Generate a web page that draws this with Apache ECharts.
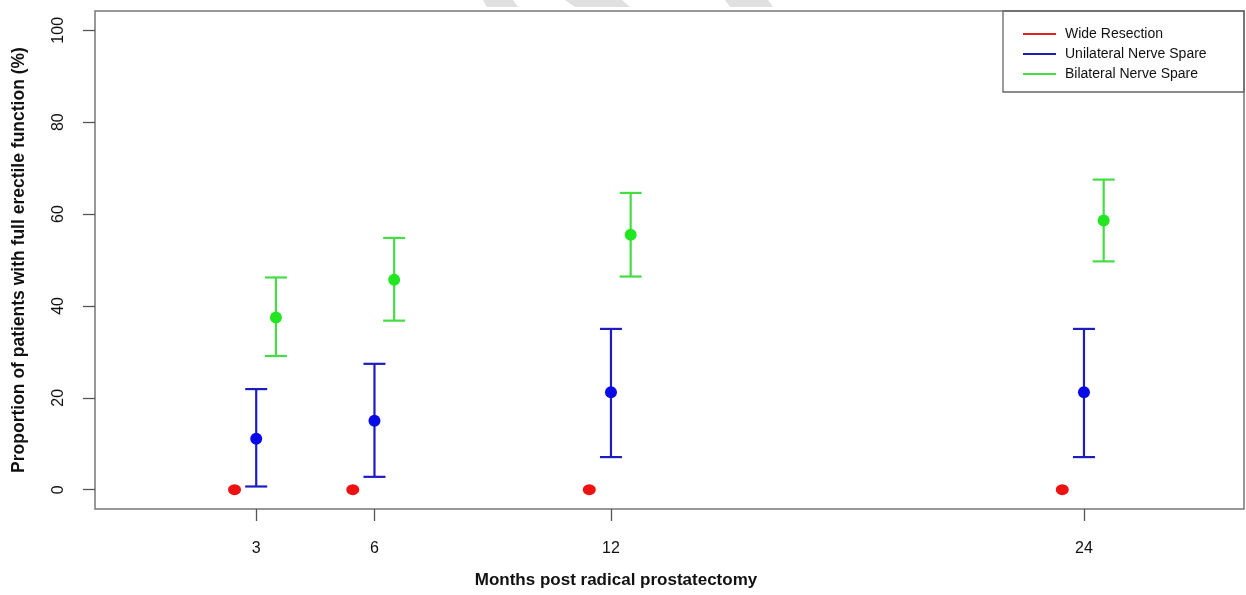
<!DOCTYPE html>
<html>
<head>
<meta charset="utf-8">
<script src="https://cdn.jsdelivr.net/npm/echarts@6/dist/echarts.min.js"></script>
<style>
html,body{margin:0;padding:0;background:#fff;}
#chart{width:1246px;height:595px;}
</style>
</head>
<body>
<div id="chart"></div>
<script>
// ---- data ----
const months = [3, 6, 12, 24];
const xTicks = [3, 6, 12, 24];
const yTicks = [0, 20, 40, 60, 80, 100];
const seriesNames = ['Wide Resection', 'Unilateral Nerve Spare', 'Bilateral Nerve Spare'];
const wideMean = [0, 0, 0, 0];
const uniMean = [11.1, 15.0, 21.2, 21.2];
const uniLow = [0.7, 2.8, 7.1, 7.1];
const uniHigh = [21.9, 27.4, 35.0, 35.0];
const biMean = [37.5, 45.7, 55.5, 58.6];
const biLow = [29.1, 36.8, 46.4, 49.7];
const biHigh = [46.2, 54.8, 64.6, 67.5];
const xTitle = 'Months post radical prostatectomy';
const yTitle = 'Proportion of patients with full erectile function (%)';

// ---- styling / layout ----
const offWide = -0.55, offUni = 0, offBi = 0.5;
const FONT = 'Liberation Sans, Arial, Helvetica, sans-serif';
const cRed = '#ee1111', cBlue = '#0a0ae6', cGreen = '#22e622';
const lBlue = '#1c1cc0', lGreen = '#44dd44';

function pts(mean, off) { return months.map((m, i) => [m + off, mean[i]]); }
function bars(low, high, off) { return months.map((m, i) => [m + off, low[i], high[i]]); }

function errRender(color) {
  return function (params, api) {
    const x = api.value(0), lo = api.value(1), hi = api.value(2);
    const pl = api.coord([x, lo]), ph = api.coord([x, hi]);
    const hw = 11;
    const st = { stroke: color, lineWidth: 2.2 };
    return {
      type: 'group',
      children: [
        { type: 'line', shape: { x1: pl[0], y1: pl[1], x2: ph[0], y2: ph[1] }, style: st },
        { type: 'line', shape: { x1: ph[0] - hw, y1: ph[1], x2: ph[0] + hw, y2: ph[1] }, style: st },
        { type: 'line', shape: { x1: pl[0] - hw, y1: pl[1], x2: pl[0] + hw, y2: pl[1] }, style: st }
      ]
    };
  };
}

const chart = echarts.init(document.getElementById('chart'), null, { renderer: 'canvas' });
chart.setOption({
  animation: false,
  backgroundColor: '#fff',
  textStyle: { fontFamily: FONT },
  title: {
    text: xTitle, left: 611, top: 567, textAlign: 'center',
    textStyle: { fontFamily: FONT, fontSize: 17, fontWeight: 'bold', color: '#111' }
  },
  grid: { left: 95, top: 11, width: 1149, height: 498, show: true, borderColor: '#777', borderWidth: 1.5, backgroundColor: 'transparent' },
  xAxis: {
    type: 'value', min: -1.09, max: 28.06,
    axisLine: { show: false, onZero: false },
    splitLine: { show: false },
    axisTick: { show: true, customValues: xTicks, length: 12, lineStyle: { color: '#555', width: 1.3 } },
    axisLabel: { customValues: xTicks, margin: 32, fontSize: 16, color: '#111', fontFamily: FONT }
  },
  yAxis: {
    type: 'value', min: -4.2, max: 104.2,
    name: yTitle, nameLocation: 'middle', nameRotate: 90, nameGap: 67,
    nameTextStyle: { fontFamily: FONT, fontSize: 17.5, fontWeight: 'bold', color: '#111' },
    axisLine: { show: false, onZero: false },
    splitLine: { show: false },
    axisTick: { show: true, customValues: yTicks, length: 12, lineStyle: { color: '#555', width: 1.3 } },
    axisLabel: { customValues: yTicks, rotate: 90, margin: 28, fontSize: 16, color: '#111', fontFamily: FONT }
  },
  legend: {
    orient: 'vertical', left: 1018, top: 19,
    icon: 'rect', itemWidth: 33, itemHeight: 2, itemGap: 0,
    textStyle: { fontFamily: FONT, fontSize: 14, color: '#111', lineHeight: 20, padding: [0, 0, 0, 4] },
    data: [
      { name: seriesNames[0], itemStyle: { color: '#dd2222' } },
      { name: seriesNames[1], itemStyle: { color: '#1c1cb0' } },
      { name: seriesNames[2], itemStyle: { color: '#44dd44' } }
    ]
  },
  graphic: [
    { type: 'rect', shape: { x: 1003, y: 11, width: 241, height: 81 }, style: { fill: 'transparent', stroke: '#666', lineWidth: 1.3 }, z: 10 },
    { type: 'polygon', shape: { points: [[483, 0], [513, 0], [518, 7], [487, 7]] }, style: { fill: '#e0e0e0' }, z: 1 },
    { type: 'polygon', shape: { points: [[565, 0], [622, 0], [630, 7], [575, 7]] }, style: { fill: '#e0e0e0' }, z: 1 },
    { type: 'polygon', shape: { points: [[725, 0], [768, 0], [773, 7], [730, 7]] }, style: { fill: '#e0e0e0' }, z: 1 }
  ],
  series: [
    { name: 'uniErr', type: 'custom', renderItem: errRender(lBlue), data: bars(uniLow, uniHigh, offUni), z: 2, silent: true },
    { name: 'biErr', type: 'custom', renderItem: errRender(lGreen), data: bars(biLow, biHigh, offBi), z: 2, silent: true },
    { name: seriesNames[0], type: 'scatter', data: pts(wideMean, offWide), symbolSize: [13, 11], itemStyle: { color: cRed, opacity: 1 }, z: 3 },
    { name: seriesNames[1], type: 'scatter', data: pts(uniMean, offUni), symbolSize: 12, itemStyle: { color: cBlue, opacity: 1 }, z: 3 },
    { name: seriesNames[2], type: 'scatter', data: pts(biMean, offBi), symbolSize: 12, itemStyle: { color: cGreen, opacity: 1 }, z: 3 }
  ]
});
</script>
</body>
</html>
